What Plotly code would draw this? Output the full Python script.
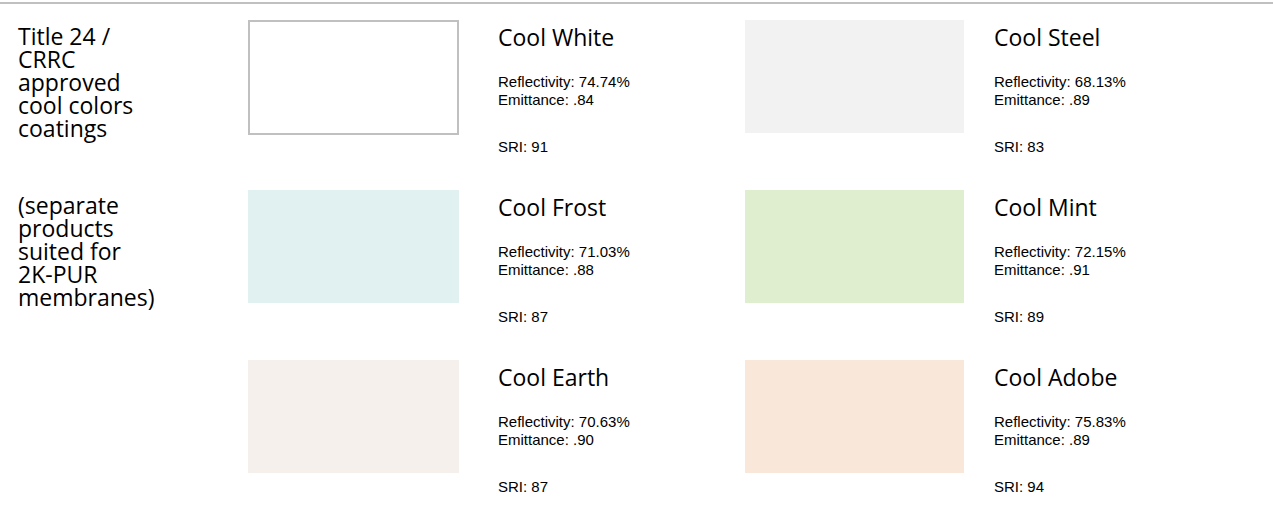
import plotly.graph_objects as go

# ---- data ----
names = ["Cool White", "Cool Steel", "Cool Frost", "Cool Mint", "Cool Earth", "Cool Adobe"]
reflectivity = ["74.74%", "68.13%", "71.03%", "72.15%", "70.63%", "75.83%"]
emittance = [".84", ".89", ".88", ".91", ".90", ".89"]
sri = ["91", "83", "87", "89", "87", "94"]
swatch_colors = ["#ffffff", "#f2f2f2", "#e1f0f1", "#dfeecf", "#f5f0eb", "#f9e8d9"]
left_title_lines = ["Title 24 /", "CRRC", "approved", "cool colors", "coatings"]
left_note_lines = ["(separate", "products", "suited for", "2K-PUR", "membranes)"]

# ---- layout (pixel grid) ----
W, H = 1273, 514
col_swatch_x = [248, 745]
col_swatch_w = [211, 219]
col_text_x = [497, 993]
row_y = [20, 190, 360]
swatch_h = 113

HEAD_FONT = "Open Sans, Noto Sans, sans-serif"
BODY_FONT = "Liberation Sans, Arial, sans-serif"
HEAD_SIZE = 23
LEFT_SIZE = 23
BODY_SIZE = 15

fig = go.Figure()
shapes = []
annotations = []

# top rule
shapes.append(dict(type="line", x0=0, x1=W, y0=3, y1=3, line=dict(color="#c0c0c0", width=2)))

for i, name in enumerate(names):
    col = i % 2
    row = i // 2
    x0 = col_swatch_x[col]
    y0 = row_y[row]
    w = col_swatch_w[col]
    if swatch_colors[i] == "#ffffff":
        shapes.append(dict(type="rect", x0=x0 + 1, x1=x0 + w - 1, y0=y0 + 1, y1=y0 + swatch_h + 1,
                           fillcolor=swatch_colors[i], line=dict(color="#c0c0c0", width=2)))
    else:
        shapes.append(dict(type="rect", x0=x0, x1=x0 + w, y0=y0, y1=y0 + swatch_h,
                           fillcolor=swatch_colors[i], line=dict(width=0)))
    tx = col_text_x[col]
    annotations.append(dict(x=tx, y=y0 + 17, text=name, font=dict(family=HEAD_FONT, size=HEAD_SIZE, color="#000"),
                            xanchor="left", yanchor="middle"))
    annotations.append(dict(x=tx, y=y0 + 61, text="Reflectivity: " + reflectivity[i],
                            font=dict(family=BODY_FONT, size=BODY_SIZE, color="#000"), xanchor="left", yanchor="middle"))
    annotations.append(dict(x=tx, y=y0 + 79, text="Emittance: " + emittance[i],
                            font=dict(family=BODY_FONT, size=BODY_SIZE, color="#000"), xanchor="left", yanchor="middle"))
    annotations.append(dict(x=tx, y=y0 + 126, text="SRI: " + sri[i],
                            font=dict(family=BODY_FONT, size=BODY_SIZE, color="#000"), xanchor="left", yanchor="middle"))

for k, line in enumerate(left_title_lines):
    annotations.append(dict(x=17, y=36 + 23 * k, text=line, font=dict(family=HEAD_FONT, size=LEFT_SIZE, color="#000"),
                            xanchor="left", yanchor="middle"))
for k, line in enumerate(left_note_lines):
    annotations.append(dict(x=17, y=205 + 23 * k, text=line, font=dict(family=HEAD_FONT, size=LEFT_SIZE, color="#000"),
                            xanchor="left", yanchor="middle"))

for a in annotations:
    a.update(xref="x", yref="y", showarrow=False, borderpad=0)

fig.update_layout(
    width=W, height=H,
    margin=dict(l=0, r=0, t=0, b=0),
    paper_bgcolor="white", plot_bgcolor="white",
    xaxis=dict(range=[0, W], visible=False, fixedrange=True),
    yaxis=dict(range=[H, 0], visible=False, fixedrange=True),
    shapes=shapes, annotations=annotations, showlegend=False,
)

fig.write_html("out.html", config={"displayModeBar": False},
               post_script="document.body.style.margin='0px';document.body.style.overflow='hidden';")
